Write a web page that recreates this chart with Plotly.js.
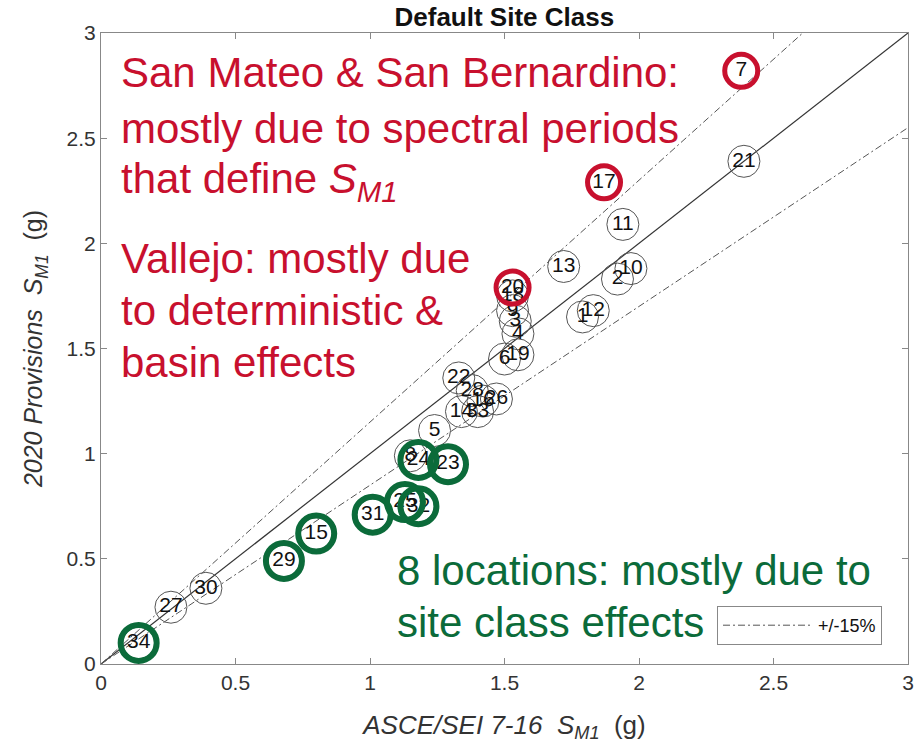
<!DOCTYPE html>
<html>
<head>
<meta charset="utf-8">
<script src="https://cdn.plot.ly/plotly-3.0.1.min.js"></script>
<style>html,body{margin:0;padding:0;background:#fff;}#chart{width:917px;height:750px;}</style>
</head>
<body>
<div id="chart"></div>
<script>
// Site labels and values
const siteLabels = ['1','2','3','4','5','6','7','8','9','10','11','12','13','14','15','16','17','18','19','20','21','22','23','24','25','26','27','28','29','30','31','32','33','34'];
const asce716 = [1.79,1.92,1.54,1.55,1.24,1.50,2.38,1.15,1.53,1.97,1.94,1.83,1.72,1.34,0.80,1.42,1.87,1.53,1.55,1.53,2.39,1.33,1.29,1.18,1.13,1.47,0.26,1.38,0.68,0.39,1.01,1.18,1.40,0.14];
const prov2020 = [1.65,1.83,1.63,1.57,1.11,1.45,2.82,0.99,1.68,1.88,2.09,1.68,1.89,1.20,0.62,1.25,2.29,1.75,1.47,1.79,2.39,1.36,0.95,0.97,0.77,1.26,0.27,1.30,0.49,0.36,0.71,0.75,1.20,0.10];

// Highlighted sites
const redSites = ['7','17','20'];
const greenSites = ['34','29','15','31','25','32','24','23'];

// Reference lines: ratio of 2020 to ASCE 7-16
const refRatios = [1.0, 1.15, 0.85];
const axisMax = 3;
const tickVals = [0,0.5,1,1.5,2,2.5,3];
const tickText = ['0','0.5','1','1.5','2','2.5','3'];

const RED = '#C8102E';
const GREEN = '#0B6B3A';
const FONT = 'Arial, Liberation Sans, sans-serif';

function pick(list){
  const xs=[], ys=[];
  list.forEach(l=>{const i=siteLabels.indexOf(l); xs.push(asce716[i]); ys.push(prov2020[i]);});
  return {x:xs,y:ys};
}
function refLine(r){
  const xEnd = Math.min(axisMax, axisMax / r);
  return {x:[0,xEnd], y:[0,xEnd*r]};
}

const traces = [];
const l1 = refLine(refRatios[0]);
traces.push({type:'scatter',mode:'lines',x:l1.x,y:l1.y,line:{color:'#333',width:1.2},showlegend:false,hoverinfo:'skip'});
[refRatios[1],refRatios[2]].forEach((r,k)=>{
  const l = refLine(r);
  traces.push({type:'scatter',mode:'lines',x:l.x,y:l.y,name:'+/-15%',
    line:{color:'#555',width:1,dash:'7px,3px,2px,3px'},showlegend:k===0,hoverinfo:'skip'});
});
traces.push({type:'scatter',mode:'markers+text',x:asce716,y:prov2020,text:siteLabels,
  textposition:'middle center',textfont:{family:FONT,size:21,color:'#111'},
  marker:{symbol:'circle-open',size:32,color:'#555',line:{width:1,color:'#555'}},showlegend:false});
const rp = pick(redSites);
traces.push({type:'scatter',mode:'markers',x:rp.x,y:rp.y,
  marker:{symbol:'circle-open',size:33,color:RED,line:{width:5,color:RED}},showlegend:false});
const gp = pick(greenSites);
traces.push({type:'scatter',mode:'markers',x:gp.x,y:gp.y,
  marker:{symbol:'circle-open',size:36,color:GREEN,line:{width:6,color:GREEN}},showlegend:false});

function ann(text,x,y,c){
  return {text:text,xref:'paper',yref:'paper',x:x,y:y,xanchor:'left',yanchor:'middle',showarrow:false,
    font:{family:FONT,size:42,color:c}};
}
const px = v=>(v-101)/807, py = v=>(664-v)/631;

const layout = {
  width:917,height:750,
  margin:{l:101,r:9,t:33,b:86},
  paper_bgcolor:'#fff',plot_bgcolor:'#fff',
  title:{text:'<b>Default Site Class</b>',x:0.55,xanchor:'center',y:0.978,yanchor:'middle',
    font:{family:FONT,size:26,color:'#111'}},
  xaxis:{range:[0,axisMax],tickvals:tickVals,ticktext:tickText,ticks:'inside',ticklen:6,tickcolor:'#888',
    showline:true,linecolor:'#888',linewidth:1,mirror:'ticks',showgrid:false,zeroline:false,
    tickfont:{family:FONT,size:21,color:'#333'},
    title:{text:'<i>ASCE/SEI 7-16\u00a0\u00a0S<sub>M1</sub></i>\u00a0\u00a0(g)',standoff:22,
      font:{family:FONT,size:26,color:'#333'}}},
  yaxis:{range:[0,axisMax],tickvals:tickVals,ticktext:tickText,ticks:'inside',ticklen:6,tickcolor:'#888',
    showline:true,linecolor:'#888',linewidth:1,mirror:'ticks',showgrid:false,zeroline:false,
    tickfont:{family:FONT,size:21,color:'#333'},
    title:{text:'<i>2020 Provisions\u00a0\u00a0S<sub>M1</sub></i>\u00a0\u00a0(g)',standoff:16,
      font:{family:FONT,size:25,color:'#333'}}},
  legend:{x:px(717),y:py(606),xanchor:'left',yanchor:'top',bgcolor:'#fff',bordercolor:'#888',borderwidth:1,
    itemwidth:90,font:{family:FONT,size:18,color:'#111'}},
  annotations:[
    ann('San Mateo & San Bernardino:',px(119),py(72),RED),
    ann('mostly due to spectral periods',px(119),py(128),RED),
    ann('that define <i>S<sub>M1</sub></i>',px(119),py(182),RED),
    ann('Vallejo: mostly due',px(119),py(258),RED),
    ann('to deterministic &',px(119),py(310),RED),
    ann('basin effects',px(119),py(362),RED),
    ann('8 locations: mostly due to',px(395),py(570),GREEN),
    ann('site class effects',px(395),py(622),GREEN)
  ]
};
Plotly.newPlot('chart',traces,layout,{displayModeBar:false});
</script>
</body>
</html>
